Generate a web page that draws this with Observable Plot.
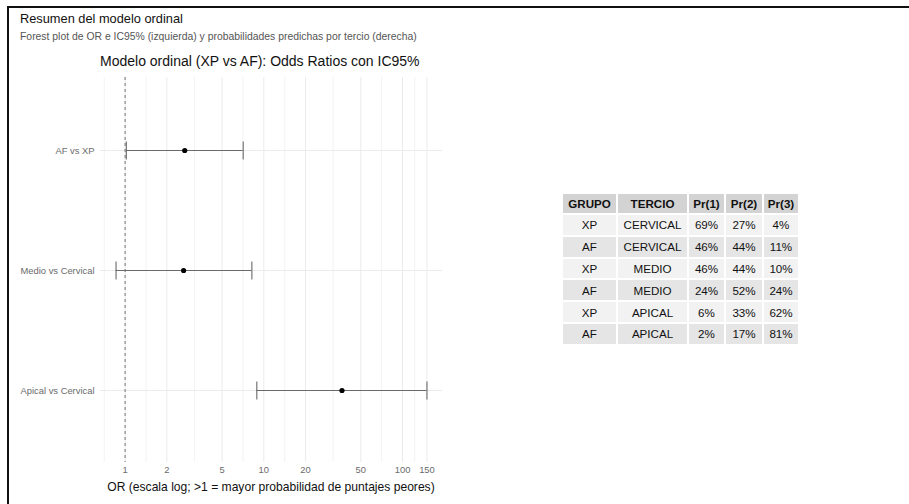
<!DOCTYPE html>
<html>
<head>
<meta charset="utf-8">
<script src="https://cdn.jsdelivr.net/npm/d3@7"></script>
<script src="https://cdn.jsdelivr.net/npm/@observablehq/plot@0.6"></script>
<style>
  html, body { margin: 0; padding: 0; background: #fff; }
  body { width: 909px; height: 504px; position: relative; overflow: hidden; font-family: "Liberation Sans", Arial, sans-serif; }
  #frame { position: absolute; left: 7px; top: 6px; width: 920px; height: 520px; border-top: 2px solid #111; border-left: 2px solid #111; }
  .abs { position: absolute; white-space: nowrap; }
  #hdr { left: 20px; top: 11px; font-size: 12.8px; color: #111; }
  #sub { left: 20px; top: 31px; font-size: 10.4px; color: #555; }
  #ttl { left: 100px; top: 53px; font-size: 14px; color: #111; }
  #xlab { left: 100px; width: 342px; top: 480px; text-align: center; font-size: 12.1px; color: #111; }
  #plot { position: absolute; left: 0; top: 0; }
  #tbl { position: absolute; left: 562px; top: 193px; border-collapse: separate; border-spacing: 0; table-layout: fixed; font-size: 11.6px; color: #111; }
  #tbl td, #tbl th { border: 1px solid #fff; padding: 0; text-align: center; box-sizing: border-box; }
  #tbl th { background: #d3d3d3; font-weight: bold; }
  #tbl tr.odd td { background: #f2f2f2; }
  #tbl tr.even td { background: #e5e5e5; }
</style>
</head>
<body>
<div id="frame"></div>
<div class="abs" id="hdr">Resumen del modelo ordinal</div>
<div class="abs" id="sub">Forest plot de OR e IC95% (izquierda) y probabilidades predichas por tercio (derecha)</div>
<div class="abs" id="ttl">Modelo ordinal (XP vs AF): Odds Ratios con IC95%</div>
<div id="plot"></div>
<div class="abs" id="xlab">OR (escala log; &gt;1 = mayor probabilidad de puntajes peores)</div>
<table id="tbl"></table>
<script>
// ---- Forest plot data ----
const comparisons = ["AF vs XP", "Medio vs Cervical", "Apical vs Cervical"];
const orEstimate = [2.69, 2.64, 36.6];
const ciLower = [1.02, 0.86, 8.9];
const ciUpper = [7.1, 8.2, 150];
const xTickValues = [1, 2, 5, 10, 20, 50, 100, 150];
const xMinorGrid = [0.707, 1.414, 3.162, 7.071, 14.14, 31.62, 70.71, 122.5];

// ---- Table data ----
const tableHeaders = ["GRUPO", "TERCIO", "Pr(1)", "Pr(2)", "Pr(3)"];
const grupo = ["XP", "AF", "XP", "AF", "XP", "AF"];
const tercio = ["CERVICAL", "CERVICAL", "MEDIO", "MEDIO", "APICAL", "APICAL"];
const pr1 = ["69%", "46%", "46%", "24%", "6%", "2%"];
const pr2 = ["27%", "44%", "44%", "52%", "33%", "17%"];
const pr3 = ["4%", "11%", "10%", "24%", "62%", "81%"];

const rows = comparisons.map((c, i) => ({comp: c, est: orEstimate[i], lo: ciLower[i], hi: ciUpper[i]}));

// ggplot-like 5% expansion in log space
const lmin = Math.log10(d3.min(ciLower)), lmax = Math.log10(d3.max(ciUpper));
const ex = (lmax - lmin) * 0.05;
const xDomain = [Math.pow(10, lmin - ex), Math.pow(10, lmax + ex)];

// vertical bar symbol for error-bar caps
const capSymbol = {draw(ctx) { ctx.moveTo(0, -9); ctx.lineTo(0, 9); }};

const gridColor = "#ebebeb";
const chart = Plot.plot({
  width: 460,
  height: 504,
  marginLeft: 100,
  marginRight: 18,
  marginTop: 77,
  marginBottom: 42,
  style: {fontFamily: "'Liberation Sans', Arial, sans-serif", fontSize: "9.4px", color: "#6b6b6b", background: "transparent"},
  x: {type: "log", domain: xDomain, axis: null},
  y: {type: "point", domain: comparisons, padding: 0.6, axis: null},
  marks: [
    Plot.gridX(xMinorGrid, {stroke: gridColor, strokeOpacity: 1, strokeWidth: 0.6}),
    Plot.gridX(xTickValues, {stroke: gridColor, strokeOpacity: 1, strokeWidth: 1}),
    Plot.gridY(comparisons, {stroke: gridColor, strokeOpacity: 1, strokeWidth: 1}),
    Plot.ruleX([1], {stroke: "#8a8a8a", strokeDasharray: "3,3", strokeWidth: 1.2}),
    Plot.ruleY(rows, {y: "comp", x1: "lo", x2: "hi", stroke: "#6a6a6a", strokeWidth: 1.1}),
    Plot.dot(rows, {x: "lo", y: "comp", symbol: capSymbol, fill: "none", stroke: "#6a6a6a", strokeWidth: 1.1}),
    Plot.dot(rows, {x: "hi", y: "comp", symbol: capSymbol, fill: "none", stroke: "#6a6a6a", strokeWidth: 1.1}),
    Plot.dot(rows, {x: "est", y: "comp", r: 2.6, fill: "#000", stroke: "none"}),
    Plot.text(xTickValues, {x: d => d, frameAnchor: "bottom", dy: 10, text: d => String(d), fill: "#6b6b6b"}),
    Plot.axisY({tickSize: 0, tickPadding: 6, label: null})
  ]
});
document.getElementById("plot").appendChild(chart);

// ---- Table ----
const colWidths = [55, 71, 37, 38, 36];
const tbl = document.getElementById("tbl");
const cg = document.createElement("colgroup");
colWidths.forEach(w => { const c = document.createElement("col"); c.style.width = w + "px"; cg.appendChild(c); });
tbl.appendChild(cg);
tbl.style.width = d3.sum(colWidths) + "px";
const htr = document.createElement("tr");
tableHeaders.forEach(h => { const th = document.createElement("th"); th.textContent = h; th.style.height = "21px"; htr.appendChild(th); });
tbl.appendChild(htr);
grupo.forEach((g, i) => {
  const tr = document.createElement("tr");
  tr.className = i % 2 === 0 ? "odd" : "even";
  [g, tercio[i], pr1[i], pr2[i], pr3[i]].forEach(v => { const td = document.createElement("td"); td.textContent = v; td.style.height = "21.8px"; tr.appendChild(td); });
  tbl.appendChild(tr);
});
</script>
</body>
</html>
